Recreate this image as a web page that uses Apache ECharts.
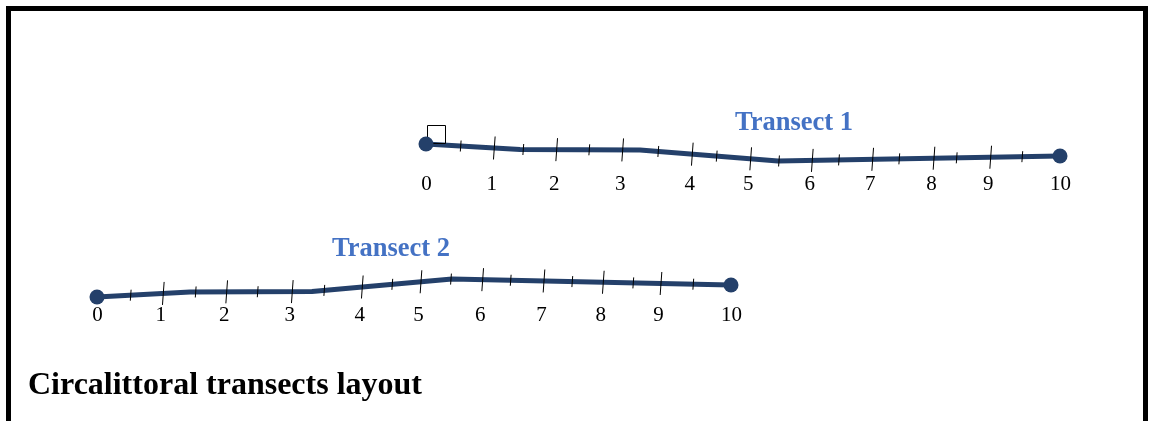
<!DOCTYPE html>
<html><head><meta charset="utf-8">
<script src="https://cdn.jsdelivr.net/npm/echarts@6/dist/echarts.min.js"></script>
<style>html,body{margin:0;padding:0;background:#fff}#c{width:1150px;height:421px}</style>
</head><body><div id="c"></div>
<script>
// ---- data (chart units on a plan frame, y downward) ----
const tickLabels = ['0','1','2','3','4','5','6','7','8','9','10'];
const transectNames = ['Transect 1', 'Transect 2'];
const chartTitle = 'Circalittoral transects layout';
// polyline vertices of each transect
const t1Path = [[426,144],[520,149.5],[640,150],[778,161],[1060,156]];
const t2Path = [[97,297],[190,292],[312,291.5],[452,279],[731,285]];
// along-line position of each 0.5 m mark (x in chart units)
const t1Ticks = [426,460.7,494.3,523.3,556.7,589.3,622.7,658.3,692.3,716.7,750.7,779,812.3,839,872.7,899.3,934,956.7,990.7,1022.3,1060];
const t2Ticks = [97,130.7,163.3,195.7,226.7,257.7,292.3,324.3,362.3,392.3,421,451,482.7,510.7,544,572.3,603.3,633.3,661,693.3,731];

// ---- styles ----
const NAVY = '#24406a';
const BLUE = '#4472c4';
const SERIF = "'Liberation Serif','Times New Roman',serif";

function yOnPath(path, x) {
  for (let i = 0; i < path.length - 1; i++) {
    const a = path[i], b = path[i + 1];
    if (x >= a[0] && x <= b[0]) {
      const t = (x - a[0]) / (b[0] - a[0]);
      return a[1] + t * (b[1] - a[1]);
    }
  }
  return x < path[0][0] ? path[0][1] : path[path.length - 1][1];
}

function lineSeries(path) {
  return {
    type: 'line', data: path, showSymbol: false, symbol: 'none', silent: true,
    lineStyle: { color: NAVY, width: 5, join: 'round', cap: 'round', opacity: 1 }, z: 2
  };
}
function endSeries(path) {
  return {
    type: 'scatter', data: [path[0], path[path.length - 1]], symbol: 'circle', symbolSize: 15,
    itemStyle: { color: NAVY, opacity: 1 }, silent: true, z: 8
  };
}
function tickSeries(path, ticks, labelOffset) {
  const maxY = Math.max(...path.map(p => p[1]));
  return {
    type: 'custom', coordinateSystem: 'cartesian2d', silent: true, z: 5,
    data: ticks.map((x, i) => [x, yOnPath(path, x), i]),
    encode: { x: 0, y: 1 },
    renderItem(params, api) {
      const p = api.coord([api.value(0), api.value(1)]);
      const i = api.value(2);
      const isEnd = (i === 0 || i === ticks.length - 1);
      const major = i % 2 === 0;
      const half = major ? 11.5 : 5.5;
      const tilt = 0.072;
      const children = [];
      if (!isEnd) {
        children.push({
          type: 'line',
          shape: { x1: p[0] - tilt * half, y1: p[1] + half, x2: p[0] + tilt * half, y2: p[1] - half },
          style: { stroke: '#000', lineWidth: 1 }
        });
      }
      if (major) {
        const ly = api.coord([0, maxY])[1] + labelOffset;
        const edge = isEnd ? 0.5 : -2.5;
        children.push({
          type: 'text', x: p[0] + edge, y: ly,
          style: { text: tickLabels[i / 2], fill: '#000', font: '21px ' + SERIF, align: 'center', verticalAlign: 'middle' }
        });
      }
      return { type: 'group', children };
    }
  };
}
function startBoxSeries(path) {
  return {
    type: 'custom', coordinateSystem: 'cartesian2d', silent: true, z: 3,
    data: [path[0]],
    renderItem(params, api) {
      const p = api.coord([api.value(0), api.value(1)]);
      return { type: 'rect', shape: { x: p[0] + 1.5, y: p[1] - 18.5, width: 18, height: 18 },
        style: { stroke: '#000', lineWidth: 1, fill: 'rgba(0,0,0,0)' } };
    }
  };
}

const chart = echarts.init(document.getElementById('c'), null, { renderer: 'canvas' });
chart.setOption({
  animation: false,
  backgroundColor: '#fff',
  grid: { left: 0, right: 0, top: 0, bottom: 0 },
  xAxis: { type: 'value', min: 0, max: 1150, show: false },
  yAxis: { type: 'value', min: 0, max: 421, inverse: true, show: false },
  graphic: [
    { type: 'rect', shape: { x: 8.5, y: 8.5, width: 1137, height: 440 },
      style: { stroke: '#000', lineWidth: 5, fill: 'rgba(0,0,0,0)' }, z: 10 },
    { type: 'text', x: 794, y: 123, style: { text: transectNames[0], fill: BLUE, font: 'bold 26.5px ' + SERIF, align: 'center', verticalAlign: 'middle' } },
    { type: 'text', x: 391, y: 249.5, style: { text: transectNames[1], fill: BLUE, font: 'bold 26.5px ' + SERIF, align: 'center', verticalAlign: 'middle' } },
    { type: 'text', x: 28, y: 386, style: { text: chartTitle, fill: '#000', font: 'bold 32px ' + SERIF, align: 'left', verticalAlign: 'middle' } }
  ],
  series: [
    lineSeries(t1Path), startBoxSeries(t1Path), tickSeries(t1Path, t1Ticks, 23.5), endSeries(t1Path),
    lineSeries(t2Path), tickSeries(t2Path, t2Ticks, 18), endSeries(t2Path)
  ]
});
</script></body></html>
